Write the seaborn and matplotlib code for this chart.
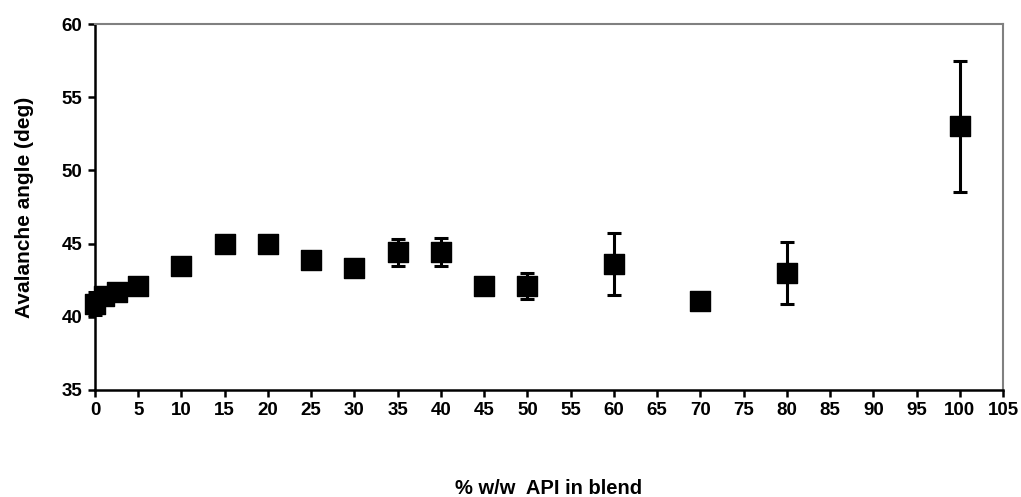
import numpy as np
import pandas as pd
import matplotlib
matplotlib.use("Agg")
import matplotlib.pyplot as plt
import seaborn as sns

# API content of each blend (% w/w)
api_pct = [0, 1, 2.5, 5, 10, 15, 20, 25, 30, 35, 40, 45, 50, 60, 70, 80, 100]
# Mean avalanche angle (deg)
avalanche_angle = [40.9, 41.4, 41.7, 42.1, 43.5, 45.0, 45.0, 43.9, 43.3, 44.4,
                   44.4, 42.1, 42.1, 43.6, 41.1, 43.0, 53.0]
# Standard deviation (deg)
angle_sd = [0.8, 0.0, 0.0, 0.0, 0.0, 0.0, 0.0, 0.0, 0.0, 0.9,
            0.95, 0.3, 0.9, 2.1, 0.0, 2.1, 4.5]

x_ticks = list(range(0, 106, 5))
y_ticks = [35, 40, 45, 50, 55, 60]

df = pd.DataFrame({"api": api_pct, "angle": avalanche_angle, "sd": angle_sd})

sns.set_theme(style="white")
plt.rcParams["font.family"] = ["Liberation Sans", "DejaVu Sans"]
plt.rcParams["font.weight"] = "bold"
plt.rcParams["text.color"] = "black"
plt.rcParams["axes.labelcolor"] = "black"
plt.rcParams["xtick.color"] = "black"
plt.rcParams["ytick.color"] = "black"

fig = plt.figure(figsize=(10.21, 4.97), dpi=100)
ax = fig.add_axes([0.093, 0.2153, 0.8894, 0.7364])

# Error bars first, markers on top
ax.errorbar(df["api"], df["angle"], yerr=df["sd"], fmt="none",
            ecolor="black", elinewidth=2.2, capsize=5, capthick=2.2,
            zorder=2, clip_on=False)
sns.scatterplot(data=df, x="api", y="angle", marker="s", s=190,
                color="black", edgecolor="black", linewidth=1,
                ax=ax, zorder=3, clip_on=False, legend=False)

ax.set_xlim(0, 105)
ax.set_ylim(35, 60)
ax.set_xticks(x_ticks)
ax.set_yticks(y_ticks)
ax.tick_params(axis="both", which="major", direction="out", length=5,
               width=1.8, colors="black", labelsize=13.5, pad=4,
               bottom=True, left=True)
for lab in ax.get_xticklabels() + ax.get_yticklabels():
    lab.set_fontweight("bold")

for side in ["left", "bottom"]:
    ax.spines[side].set_color("black")
    ax.spines[side].set_linewidth(1.8)
for side in ["top", "right"]:
    ax.spines[side].set_color("#808080")
    ax.spines[side].set_linewidth(1.5)

ax.set_xlabel("% w/w  API in blend", fontsize=14.5, fontweight="bold",
              color="black", labelpad=43)
ax.set_ylabel("Avalanche angle (deg)", fontsize=15, fontweight="bold",
              color="black", labelpad=20)

fig.savefig("out.png", dpi=100, facecolor="white")
